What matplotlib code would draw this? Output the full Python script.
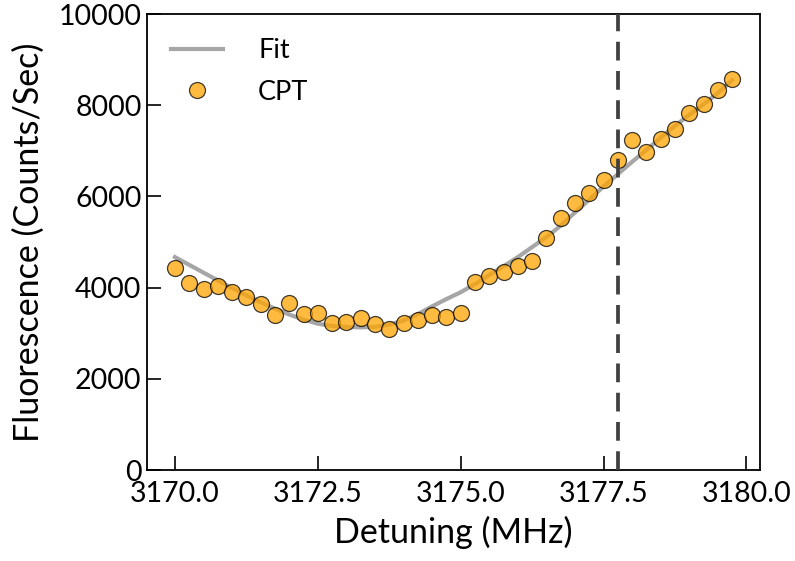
import numpy as np
import matplotlib
matplotlib.use("Agg")
import matplotlib.pyplot as plt

# detuning values (MHz), step 0.25
detuning = [3170.00, 3170.25, 3170.50, 3170.75, 3171.00, 3171.25, 3171.50, 3171.75,
            3172.00, 3172.25, 3172.50, 3172.75, 3173.00, 3173.25, 3173.50, 3173.75,
            3174.00, 3174.25, 3174.50, 3174.75, 3175.00, 3175.25, 3175.50, 3175.75,
            3176.00, 3176.25, 3176.50, 3176.75, 3177.00, 3177.25, 3177.50, 3177.75,
            3178.00, 3178.25, 3178.50, 3178.75, 3179.00, 3179.25, 3179.50, 3179.75]

# measured CPT fluorescence (counts/sec)
cpt = [4430, 4100, 3970, 4035, 3900, 3790, 3640, 3400,
       3660, 3420, 3440, 3220, 3245, 3330, 3200, 3090,
       3220, 3290, 3400, 3355, 3440, 4120, 4250, 4340,
       4470, 4580, 5090, 5530, 5860, 6070, 6360, 6800,
       7240, 6970, 7260, 7480, 7830, 8030, 8330, 8575]

# fit curve read at the same detunings
fit = [4670, 4500, 4330, 4160, 3990, 3830, 3680, 3540,
       3410, 3300, 3210, 3160, 3140, 3130, 3140, 3190,
       3280, 3420, 3590, 3750, 3900, 4080, 4280, 4470,
       4670, 4890, 5110, 5360, 5650, 5930, 6220, 6490,
       6760, 7020, 7290, 7550, 7790, 8020, 8270, 8550]

marker_pos = 3177.75

plt.rcParams['font.family'] = ['Lato', 'DejaVu Sans']

fig = plt.figure(figsize=(7.95, 5.61), dpi=100)
ax = fig.add_axes([0.185, 0.162, 0.771, 0.813])

ax.plot(detuning, fit, color="#a6a6a6", lw=3, label="Fit", zorder=2)
ax.plot(detuning, cpt, "o", color="orange", alpha=0.75, mec="black", mew=0.9,
        ms=11.5, label="CPT", zorder=3)
ax.axvline(marker_pos, color="0.25", lw=2.7, dashes=(5, 2.8), zorder=4)

ax.set_ylim(0, 10000)
ax.set_xticks([3170.0, 3172.5, 3175.0, 3177.5, 3180.0])
ax.set_xticklabels(["3170.0", "3172.5", "3175.0", "3177.5", "3180.0"])
ax.set_yticks([0, 2000, 4000, 6000, 8000, 10000])

ax.tick_params(direction="in", length=10, width=1.2, labelsize=20.5, pad=4)
ax.tick_params(axis="x", pad=8)
for s in ax.spines.values():
    s.set_linewidth(1.3)

ax.set_xlabel("Detuning (MHz)", fontsize=24.5, labelpad=6)
ax.set_ylabel("Fluorescence (Counts/Sec)", fontsize=24.5, labelpad=10)

ax.legend(loc="upper left", frameon=False, fontsize=19.5, handlelength=1.9,
          handletextpad=1.3, borderaxespad=0.5, labelspacing=0.6)

fig.savefig("out.png", dpi=100)
